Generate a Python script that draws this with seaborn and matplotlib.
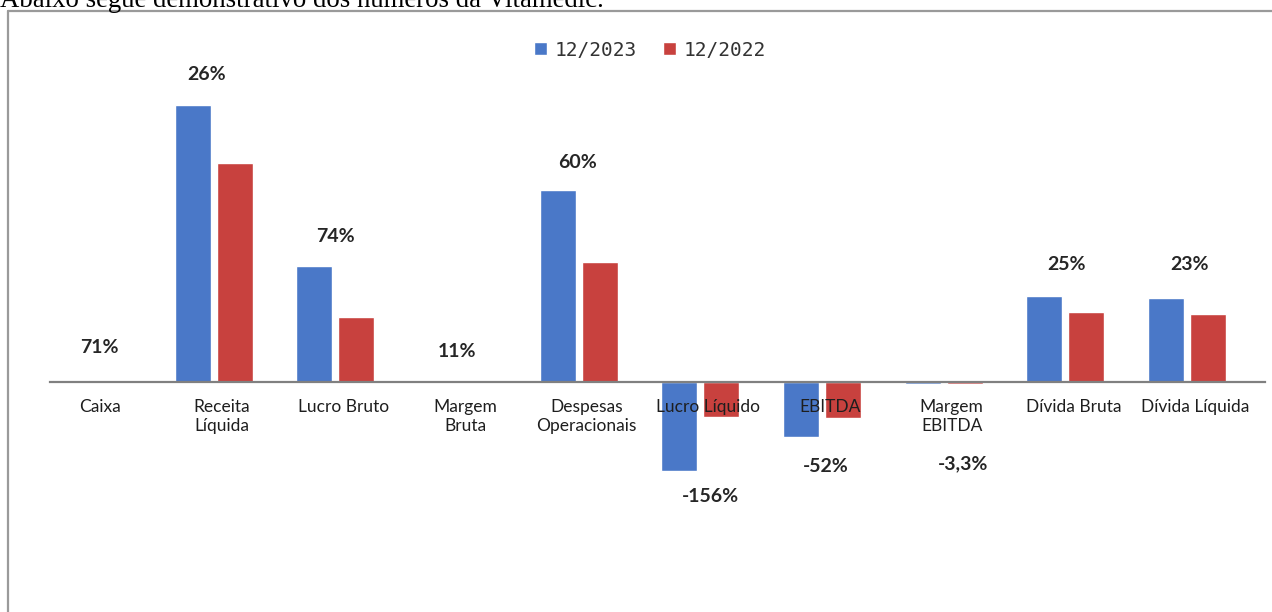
import matplotlib
matplotlib.use("Agg")
import pandas as pd
import matplotlib.pyplot as plt
import seaborn as sns
from matplotlib.lines import Line2D

# ---- data ----
categories = ["Caixa", "Receita\nLíquida", "Lucro Bruto", "Margem\nBruta",
              "Despesas\nOperacionais", "Lucro Líquido", "EBITDA",
              "Margem\nEBITDA", "Dívida Bruta", "Dívida Líquida"]
series = ["12/2023", "12/2022"]
values_2023 = [2.4, 277, 116, 0.5, 192, -89, -55, -1.6, 86, 84]
values_2022 = [1.4, 219, 65, 0.45, 120, -35, -36, -1.55, 70, 68]
growth_labels = ["71%", "26%", "74%", "11%", "60%", "-156%", "-52%", "-3,3%", "25%", "23%"]
header = "Abaixo segue demonstrativo dos números da Vitamedic."

# ---- layout (pixel offsets for the annotations) ----
growth_dx = [7, -7, 0, 0, -1, 10, 4, 19, 1, 2]
growth_dy = [32, 30, 29, 30, 28, -26, -30, -80, 32, 33]
label_dx = 8

df = pd.DataFrame({
    "categoria": categories * 2,
    "periodo": [series[0]] * len(categories) + [series[1]] * len(categories),
    "valor": values_2023 + values_2022,
})

sns.set_theme(style="white")
plt.rcParams["font.family"] = ["Lato", "DejaVu Sans"]

W, H = 1272, 612
fig = plt.figure(figsize=(W / 100, H / 100), dpi=100)
fig.patch.set_facecolor("white")
ax = fig.add_axes([50 / W, 12 / H, 1215 / W, 540 / H])
ax.set_facecolor("white")

sns.barplot(data=df, x="categoria", y="valor", hue="periodo", order=categories,
            hue_order=series, palette=["#4A78C8", "#C8413E"], width=0.69, gap=0.14,
            saturation=1, ax=ax, legend=True, errorbar=None)

ax.set_ylim(-218, 322)
ax.set_xlim(-0.345, 9.641)
for s in ["top", "right", "left"]:
    ax.spines[s].set_visible(False)
ax.spines["bottom"].set_position(("data", 0))
ax.spines["bottom"].set_color("#808080")
ax.spines["bottom"].set_linewidth(1.6)
ax.set_yticks([])
ax.set_xticks(range(len(categories)))
ax.set_xticklabels([])
ax.tick_params(axis="x", length=0)
ax.set_xlabel("")
ax.set_ylabel("")

# category labels
for i, cat in enumerate(categories):
    ax.annotate(cat, xy=(i, 0), xytext=(label_dx, -17), textcoords="offset pixels",
                ha="center", va="top", fontsize=12.5, color="#1e1e1e", linespacing=1.25)

# growth annotations
for i, lbl in enumerate(growth_labels):
    dy = growth_dy[i]
    if dy > 0:
        anchor = max(values_2023[i], values_2022[i], 0)
    else:
        anchor = min(values_2023[i], values_2022[i], 0)
    ax.annotate(lbl, xy=(i, anchor), xytext=(growth_dx[i], dy), textcoords="offset pixels",
                ha="center", va="center", fontsize=14, fontweight="bold", color="#262626")

# legend
h, l = ax.get_legend_handles_labels()
if ax.get_legend() is not None:
    ax.get_legend().remove()
fig.legend(h, l, loc="center", bbox_to_anchor=(650 / W, 1 - 50 / H),
           bbox_transform=fig.transFigure, frameon=False, ncol=2,
           prop={"family": "DejaVu Sans Mono", "size": 14},
           handlelength=0.67, handleheight=0.67, handletextpad=0.4,
           columnspacing=1.3, labelcolor="#333333", borderpad=0)

# header text (partly cut off at the top, as in the source) and chart frame
fig.text(0.0, 1 - 7 / H, header, family="Liberation Serif", fontsize=19.3,
         va="baseline", ha="left", color="black")
fig.add_artist(Line2D([8 / W, 1], [1 - 11 / H, 1 - 11 / H], transform=fig.transFigure,
                      color="#9a9a9a", lw=1.6))
fig.add_artist(Line2D([8 / W, 8 / W], [0, 1 - 11 / H], transform=fig.transFigure,
                      color="#9a9a9a", lw=1.6))

fig.savefig("out.png", dpi=100)
